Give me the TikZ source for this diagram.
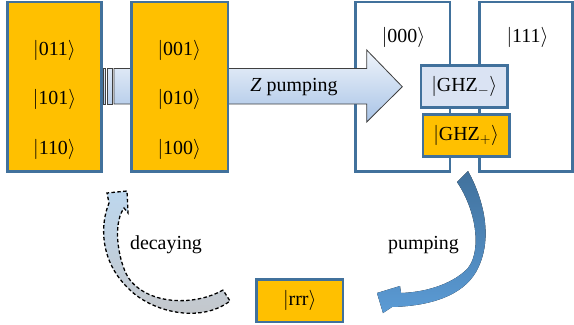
\documentclass[tikz,border=0pt]{standalone}
\usepackage{fontspec}
\setmainfont{Liberation Serif}
\usetikzlibrary{calc}
\definecolor{ketOrange}{HTML}{FFC000}
\definecolor{ketBorder}{HTML}{41719C}
\definecolor{ghzLight}{HTML}{DAE3F3}
\definecolor{zTop}{HTML}{F0F5FB}
\definecolor{zBottom}{HTML}{A8C3E6}
\definecolor{pumpDark}{HTML}{41719C}
\definecolor{pumpLight}{HTML}{5B9BD5}
\definecolor{decayBlue}{HTML}{BDD7EE}
\definecolor{decayGrey}{HTML}{C4C6C9}

\newcommand{\ket}[1]{$|$#1$\rangle$}

\begin{document}
\begin{tikzpicture}[
    x=0.03cm, y=-0.03cm,
    font=\fontsize{17}{20}\selectfont,
    level/.style={
        draw=ketBorder,
        line width=2.2pt,
        inner sep=0pt,
        minimum width=2.83cm,
        minimum height=5.09cm
    },
    cluster/.style={level, fill=ketOrange},
    target/.style={level, fill=white},
    ghz/.style={
        draw=ketBorder,
        line width=2.2pt,
        inner sep=0pt,
        minimum width=2.59cm,
        minimum height=1.26cm
    },
    zarrow/.style={draw=black!75, line width=0.7pt, top color=zTop, bottom color=zBottom},
    zstripe/.style={draw=black!75, line width=0.7pt,
        top color=zBottom!26!zTop, bottom color=zBottom!75!zTop},
    pumparrow/.style={top color=pumpDark, bottom color=pumpLight},
    decayarrow/.style={draw=black, line width=1.1pt, dash pattern=on 3pt off 2pt,
        top color=decayBlue, bottom color=decayGrey},
]
\useasboundingbox (0,0) rectangle (574,324);

% target levels
\node[target] (g000) at (402.8,86.8) {};
\node[target, minimum width=2.79cm] (g111) at (526.2,86.8) {};
\node (k000) at (403.5,37) {\ket{000}};
\node (k111) at (527.5,37) {\ket{111}};

% Z pumping
\draw[zstripe] (103,68.5) rectangle (105.3,104);
\draw[zstripe] (107.3,68.5) rectangle (112.3,104);
\draw[zarrow] (114,68.5) -- (366.7,68.5) -- (366.7,50) -- (402.3,86.7)
    -- (366.7,122) -- (366.7,104) -- (114,104) -- cycle;
\node (zlabel) at (294,87) {\textit{Z} pumping};

% excited manifolds
\node[cluster] (double) at (54.5,86.7) {};
\node[cluster, minimum width=2.89cm] (single) at (179.7,86.7) {};
\node (k011) at (54.5,50) {\ket{011}};
\node (k101) at (54.5,99.3) {\ket{101}};
\node (k110) at (54.5,149.3) {\ket{110}};
\node (k001) at (179.3,50) {\ket{001}};
\node (k010) at (179.3,99.3) {\ket{010}};
\node (k100) at (179.3,149.3) {\ket{100}};

% GHZ states
\node[ghz, fill=ghzLight] (ghzm) at (464.3,86.3) {\ket{GHZ$_-$}};
\node[ghz, fill=ketOrange] (ghzp) at (466.2,135.7) {\ket{GHZ$_+$}};
\node[ghz, fill=ketOrange, minimum width=2.6cm, minimum height=1.28cm]
    (rrr) at (299.7,300.7) {\ket{rrr}};

% pumping back
\fill[pumparrow] (468,171) .. controls (484,200) and (494,240) .. (476,272)
    .. controls (462,296) and (430,306) .. (392,307)
    -- (383,313) -- (377,293) -- (400,286) -- (401,293)
    .. controls (430,292) and (455,282) .. (468,268)
    .. controls (482,250) and (476,210) .. (457,182) -- cycle;
\node (plabel) at (423.5,245) {pumping};

% decay
\draw[decayarrow] (223,290) .. controls (195,306) and (150,305) .. (130,280)
    .. controls (120,267.5) and (111,226) .. (124,208)
    -- (128,213) -- (127,191) -- (107,193) -- (109,203)
    .. controls (100,225) and (100,260) .. (127,287)
    .. controls (150,312) and (200,324) .. (230,301) -- cycle;
\node (dlabel) at (166,245) {decaying};

\end{tikzpicture}
\end{document}
